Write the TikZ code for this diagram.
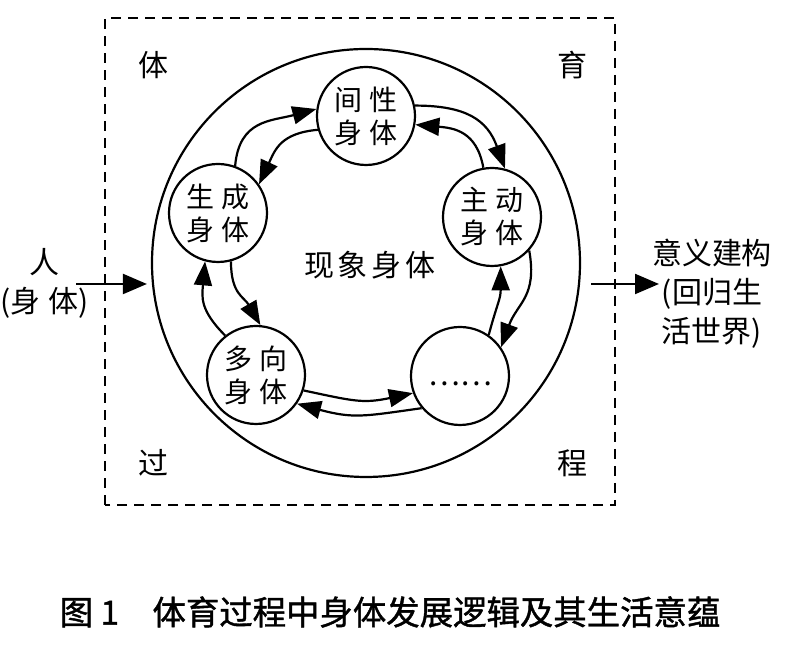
\documentclass[tikz,border=0pt]{standalone}
\usepackage{fontspec}
\setmainfont{Noto Sans CJK SC}
\newfontfamily\capfont[FakeBold=1.2]{Noto Sans CJK SC}
\usetikzlibrary{arrows.meta}

\tikzset{
    body/.style={draw, circle, line width=1.1pt, minimum size=49pt, inner sep=0pt, align=center, font=\fontsize{14}{16.5}\selectfont},
    flow/.style={line width=1.1pt, looseness=1.2, -{Triangle[length=12pt, width=9pt]}},
    link/.style={line width=1.1pt, -{Triangle[length=12pt, width=10pt]}},
    tag/.style={font=\fontsize{15}{19.5}\selectfont, align=center},
}
\newcommand{\gap}{\hspace{4pt}}

\begin{document}
\begin{tikzpicture}[x=0.5pt, y=0.5pt]
    \useasboundingbox (0, 0) rectangle (800, 646);

    % Frame
    \draw[line width=1.1pt, dash pattern=on 5pt off 3.5pt] (105, 141) rectangle (615, 628);
    \node[draw, circle, line width=1.1pt, minimum size=214pt, inner sep=0pt] (field) at (366, 383) {};

    % Bodies
    \node[body] (jx) at (366, 530) {间\gap 性\\身\gap 体};
    \node[body] (sc) at (218, 433) {生\gap 成\\身\gap 体};
    \node[body] (zd) at (492, 429) {主\gap 动\\身\gap 体};
    \node[body] (dx) at (256, 271) {多\gap 向\\身\gap 体};
    \node[body, label={[font=\fontsize{15}{18}\selectfont, yshift=-4pt]center:……}] (dd) at (460, 270) {};
    \node[tag] (xx) at (370, 381) {现\hspace{2pt}象\hspace{2pt}身\hspace{2pt}体};

    % Arrows
    \draw[flow] (sc.70) to[out=85, in=195] (jx.172);
    \draw[flow] (jx.196) to[out=185, in=65] (sc.35);
    \draw[flow] (jx.12) to[out=0, in=110] (zd.75);
    \draw[flow] (zd.100) to[out=100, in=-5] (jx.-10);
    \draw[flow] (zd.-42) to[out=-80, in=70] (dd.35);
    \draw[flow] (dd.55) to[out=75, in=-90] (zd.-80);
    \draw[flow] (dd.-140) to[out=188, in=-15] (dx.-35);
    \draw[flow] (dx.-18) to[out=-12, in=192] (dd.-160);
    \draw[flow] (dx.128) to[out=135, in=-95] (sc.-105);
    \draw[flow] (sc.-75) to[out=-90, in=120] (dx.85);

    % Corners
    \node[tag] (ti) at (154, 581) {体};
    \node[tag] (yu) at (572, 581) {育};
    \node[tag] (guo) at (154, 183) {过};
    \node[tag] (cheng) at (572, 183) {程};

    % In and out
    \node[tag] (person) at (45, 363) {人\\(身\gap 体)};
    \node[tag] (meaning) at (712, 352) {意义建构\\(回归生\\活世界)};
    \coordinate (in) at (76, 362);
    \coordinate (out) at (659, 362);
    \draw[link, shorten >=2pt] (in) -- (field.west |- in);
    \draw[link, shorten <=5pt] (field.east |- out) -- (out);

    % Caption
    \node[font=\capfont\fontsize{16.7}{20}\selectfont] (caption) at (390, 34) {图 1　体育过程中身体发展逻辑及其生活意蕴};
\end{tikzpicture}
\end{document}
